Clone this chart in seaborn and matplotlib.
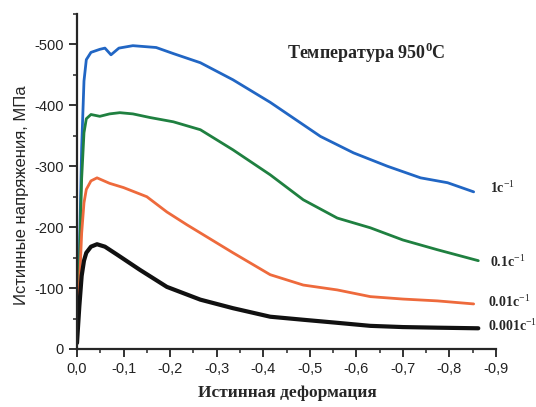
import numpy as np
import pandas as pd
import matplotlib.pyplot as plt
import seaborn as sns
from matplotlib.ticker import MultipleLocator, FuncFormatter

# Данные (деформация и напряжение, МПа)
strain_1 = [0.0, 0.005, 0.01, 0.015, 0.02, 0.03, 0.049, 0.06, 0.073, 0.09, 0.12, 0.17, 0.207,
            0.265, 0.335, 0.415, 0.523, 0.594, 0.667, 0.738, 0.796, 0.852]
stress_1 = [-10, -150, -330, -440, -475, -487, -492, -494, -483, -494, -498, -495, -485,
            -470, -442, -405, -349, -322, -300, -281, -273, -258]

strain_01 = [0.0, 0.005, 0.01, 0.015, 0.02, 0.03, 0.049, 0.07, 0.092, 0.12, 0.157, 0.207,
             0.265, 0.335, 0.415, 0.486, 0.559, 0.63, 0.70, 0.774, 0.862]
stress_01 = [-10, -130, -280, -355, -378, -385, -382, -386, -388, -386, -380, -373,
             -360, -327, -286, -245, -215, -199, -179, -163, -145]

strain_001 = [0.0, 0.005, 0.01, 0.015, 0.02, 0.03, 0.043, 0.07, 0.10, 0.15, 0.193, 0.236,
              0.335, 0.415, 0.486, 0.559, 0.63, 0.70, 0.774, 0.852]
stress_001 = [-10, -100, -190, -240, -262, -276, -281, -272, -265, -250, -225, -204,
              -158, -122, -105, -97, -86, -82, -79, -74]

strain_0001 = [0.0, 0.005, 0.01, 0.015, 0.02, 0.03, 0.043, 0.06, 0.086, 0.135, 0.193,
               0.265, 0.335, 0.415, 0.486, 0.559, 0.63, 0.70, 0.774, 0.862]
stress_0001 = [-10, -70, -120, -145, -158, -168, -172, -168, -155, -130, -102,
               -81, -67, -53, -48, -43, -38, -36, -35, -34]

rate_labels = ["1c$^{-1}$", "0.1c$^{-1}$", "0.01c$^{-1}$", "0.001c$^{-1}$"]
colors = ["#2166c4", "#1f8040", "#ee6a3c", "#111111"]
widths = [2.0, 2.0, 2.0, 3.0]

sns.set_style("ticks")
plt.rcParams['font.family'] = ['Liberation Sans', 'DejaVu Sans']
plt.rcParams['mathtext.fontset'] = 'custom'
plt.rcParams['mathtext.rm'] = 'Liberation Serif'
plt.rcParams['mathtext.bf'] = 'Liberation Serif:bold'

fig = plt.figure(figsize=(5.36, 4.07), dpi=100)
ax = fig.add_axes([77 / 536, 1 - 349 / 407, (496 - 77) / 536, (349 - 14) / 407])

series = [(strain_1, stress_1), (strain_01, stress_01), (strain_001, stress_001), (strain_0001, stress_0001)]
for (s, st), c, w in zip(series, colors, widths):
    df = pd.DataFrame({"x": -np.array(s), "y": st})
    sns.lineplot(data=df, x="x", y="y", ax=ax, color=c, linewidth=w, sort=False)

ax.set_xlim(0, -0.9)
ax.set_ylim(0, -550)
ax.xaxis.set_major_locator(MultipleLocator(0.1))
ax.xaxis.set_minor_locator(MultipleLocator(0.05))
ax.yaxis.set_major_locator(MultipleLocator(100))
ax.yaxis.set_minor_locator(MultipleLocator(50))


def fmt_x(v, pos):
    if abs(v) < 1e-9:
        return "0,0"
    return f"{v:.1f}".replace(".", ",")


def fmt_y(v, pos):
    if abs(v) < 1e-9:
        return "0"
    return f"{v:.0f}"


ax.xaxis.set_major_formatter(FuncFormatter(fmt_x))
ax.yaxis.set_major_formatter(FuncFormatter(fmt_y))
ax.tick_params(which="major", direction="out", length=6, width=1.3, labelsize=10.5, colors="#222222")
ax.tick_params(which="minor", direction="out", length=3, width=1.1)
for side in ["left", "bottom"]:
    ax.spines[side].set_linewidth(1.6)
sns.despine(ax=ax)
ax.set_xlabel("")
ax.set_ylabel("")

# подписи осей
fig.text(287 / 536, 1 - 393 / 407, "Истинная деформация", ha="center", va="center",
         fontsize=12.5, fontweight="bold", family="Liberation Serif")
fig.text(22 / 536, 1 - 195 / 407, "Истинные напряжения, МПа", ha="center", va="center",
         rotation=90, fontsize=12)

ax.text(0.69, 0.885, "Температура 950$^{\\mathbf{0}}$C", transform=ax.transAxes, ha="center", va="center",
        fontsize=13, fontweight="bold", family="Liberation Serif")

label_pos = [(490, 188), (490, 262), (488, 302), (488, 326)]
for lab, (px, py) in zip(rate_labels, label_pos):
    fig.text(px / 536, 1 - py / 407, lab, ha="left", va="center", fontsize=10,
             family="Liberation Serif", fontweight="bold")

fig.savefig("out.png", dpi=100)
